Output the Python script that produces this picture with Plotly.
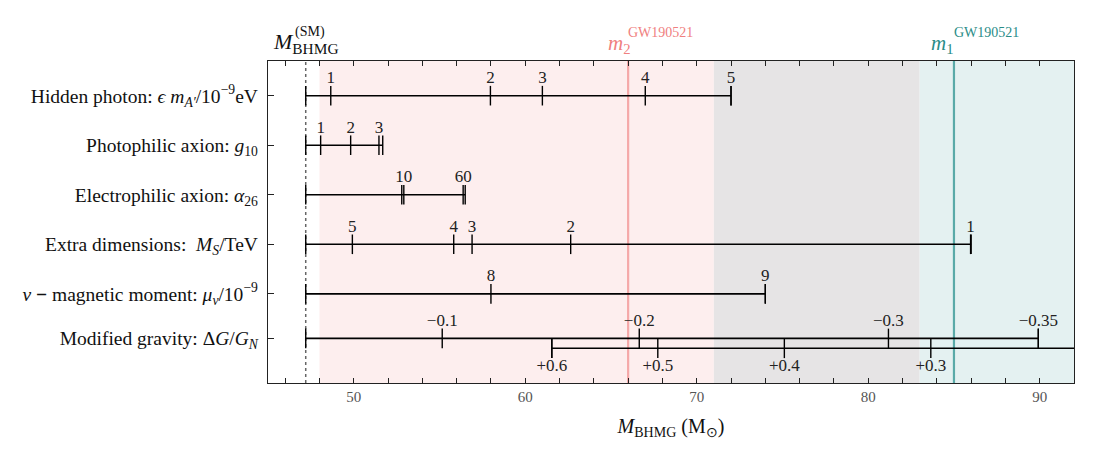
import plotly.graph_objects as go

# ---------------- data ----------------
X_RANGE = [45, 92]
X_MAJOR = [50, 60, 70, 80, 90]
X_MINOR = [46, 48, 52, 54, 56, 58, 62, 64, 66, 68, 72, 74, 76, 78, 82, 84, 86, 88, 92]

M_SM = 47.2          # standard-model BHMG lower edge
M2_GW = 66.0         # GW190521 m2
M2_BAND = [48.0, 83.0]
M1_GW = 85.0         # GW190521 m1
M1_BAND = [71.0, 106.0]

ROW_LABELS = [
    "Hidden photon: <i>ϵ m</i><sub><i>A′</i></sub>/10<sup>−9</sup>eV",
    "Photophilic axion: <i>g</i><sub>10</sub>",
    "Electrophilic axion: <i>α</i><sub>26</sub>",
    "Extra dimensions:  <i>M</i><sub><i>S</i></sub>/TeV",
    "<i>ν</i> <b>−</b> magnetic moment: <i>μ</i><sub><i>ν</i></sub>/10<sup>−9</sup>",
    "Modified gravity: Δ<i>G</i>/<i>G</i><sub><i>N</i></sub>",
]
ROW_Y = [0, 1, 2, 3, 4, 4.9]
ROW_END = [72.0, 51.69, 56.5, 86.0, 74.0, 89.92]
ROW_TICKS = [
    [48.66, 57.97, 61.0, 67.0, 72.0],
    [48.07, 49.82, 51.47],
    [52.8, 52.92, 56.38],
    [49.92, 55.83, 56.9, 62.65, 85.97],
    [58.0, 74.0],
    [55.16, 66.65, 81.18, 89.92],
]
ROW_TICK_LABELS = [
    ["1", "2", "3", "4", "5"],
    ["1", "2", "3"],
    ["", "10", "60"],
    ["5", "4", "3", "2", "1"],
    ["8", "9"],
    ["−0.1", "−0.2", "−0.3", "−0.35"],
]

# modified gravity, positive branch
POS_Y = 5.1
POS_START = 61.55
POS_END = 95.0
POS_TICKS = [61.55, 67.73, 75.11, 83.65]
POS_TICK_LABELS = ["+0.6", "+0.5", "+0.4", "+0.3"]

# ---------------- style ----------------
FONT = "Liberation Serif, Times New Roman, serif"
PINK_BG = "#fdeeee"
GRAY_BG = "#e6e4e5"
TEAL_BG = "#e4f1f1"
PINK_LINE = "#f5a8a8"
TEAL_LINE = "#5aaaa8"
PINK_TXT = "#f08080"
TEAL_TXT = "#2a8c87"
LABEL_DY = 0.34

fig = go.Figure()

def add_bar(x0, x1, y, ticks, labels, below=False):
    fig.add_trace(go.Scatter(x=[x0, x1], y=[y, y], mode="lines",
                             line=dict(color="black", width=1.6),
                             hoverinfo="skip", showlegend=False))
    caps = [x0] + list(ticks) + ([x1] if x1 <= X_RANGE[1] else [])
    fig.add_trace(go.Scatter(x=caps, y=[y] * len(caps), mode="markers",
                             marker=dict(symbol="line-ns", size=14,
                                         line=dict(color="black", width=1.4)),
                             hoverinfo="skip", showlegend=False))
    dy = LABEL_DY + 0.03 if below else -LABEL_DY
    fig.add_trace(go.Scatter(x=list(ticks), y=[y + dy] * len(ticks), mode="text",
                             text=labels, textposition="middle center",
                             textfont=dict(family=FONT, size=17, color="#222"),
                             hoverinfo="skip", showlegend=False, cliponaxis=False))

for y, end, ticks, labels in zip(ROW_Y, ROW_END, ROW_TICKS, ROW_TICK_LABELS):
    add_bar(M_SM, end, y, ticks, labels)
add_bar(POS_START, POS_END, POS_Y, POS_TICKS, POS_TICK_LABELS, below=True)

# invisible trace on the top axis so that it is drawn
fig.add_trace(go.Scatter(x=X_RANGE, y=[0, 0], xaxis="x2", mode="markers",
                         marker=dict(opacity=0), hoverinfo="skip", showlegend=False))

# shaded bands
shapes = [
    dict(type="rect", xref="x", yref="paper", x0=M2_BAND[0], x1=M1_BAND[0], y0=0, y1=1,
         fillcolor=PINK_BG, line=dict(width=0), layer="below"),
    dict(type="rect", xref="x", yref="paper", x0=M1_BAND[0], x1=M2_BAND[1], y0=0, y1=1,
         fillcolor=GRAY_BG, line=dict(width=0), layer="below"),
    dict(type="rect", xref="x", yref="paper", x0=M2_BAND[1], x1=min(M1_BAND[1], X_RANGE[1]), y0=0, y1=1,
         fillcolor=TEAL_BG, line=dict(width=0), layer="below"),
    dict(type="line", xref="x", yref="paper", x0=M2_GW, x1=M2_GW, y0=0, y1=1,
         line=dict(color=PINK_LINE, width=2.2), layer="below"),
    dict(type="line", xref="x", yref="paper", x0=M1_GW, x1=M1_GW, y0=0, y1=1,
         line=dict(color=TEAL_LINE, width=2.2), layer="below"),
    dict(type="line", xref="x", yref="paper", x0=M_SM, x1=M_SM, y0=0, y1=1,
         line=dict(color="#666", width=1.5, dash="dot"), layer="below"),
]

annotations = [
    dict(x=M_SM, y=1, xref="x", yref="paper", xanchor="center", yanchor="bottom",
         yshift=2, showarrow=False,
         text="<i>M</i><sub>BHMG</sub>", font=dict(family=FONT, size=22, color="#111")),
    dict(x=M_SM, y=1, xref="x", yref="paper", xanchor="left", yanchor="bottom",
         xshift=-13, yshift=19, showarrow=False,
         text="(SM)", font=dict(family=FONT, size=14, color="#111")),
    dict(x=M2_GW, y=1, xref="x", yref="paper", xanchor="right", yanchor="bottom",
         xshift=5, yshift=2, showarrow=False,
         text="<i>m</i><sub>2</sub>", font=dict(family=FONT, size=21, color=PINK_TXT)),
    dict(x=M2_GW, y=1, xref="x", yref="paper", xanchor="left", yanchor="bottom",
         xshift=-2, yshift=19, showarrow=False,
         text="GW190521", font=dict(family=FONT, size=14, color=PINK_TXT)),
    dict(x=M1_GW, y=1, xref="x", yref="paper", xanchor="right", yanchor="bottom",
         xshift=2, yshift=2, showarrow=False,
         text="<i>m</i><sub>1</sub>", font=dict(family=FONT, size=21, color=TEAL_TXT)),
    dict(x=M1_GW, y=1, xref="x", yref="paper", xanchor="left", yanchor="bottom",
         xshift=-2, yshift=19, showarrow=False,
         text="GW190521", font=dict(family=FONT, size=14, color=TEAL_TXT)),
]

AX_COLOR = "#222"
fig.update_layout(
    width=1086, height=442,
    margin=dict(l=260, r=20, t=53, b=67),
    plot_bgcolor="white", paper_bgcolor="white",
    shapes=shapes, annotations=annotations,
    font=dict(family=FONT, color="#111"),
    xaxis=dict(
        range=X_RANGE, tickvals=X_MAJOR, ticks="inside", ticklen=5, tickwidth=1.2,
        tickcolor=AX_COLOR, showline=True, linecolor=AX_COLOR, linewidth=1.4,
        mirror=True, showgrid=False, zeroline=False,
        tickfont=dict(family=FONT, size=15, color="#555"),
        minor=dict(tickvals=X_MINOR, ticks="inside", ticklen=5, tickwidth=1.2,
                   tickcolor=AX_COLOR, showgrid=False),
        title=dict(text="<i>M</i><sub>BHMG</sub> (M<sub>⊙</sub>)", standoff=14,
                   font=dict(family=FONT, size=20, color="#111")),
    ),
    xaxis2=dict(
        range=X_RANGE, overlaying="x", side="top", tickvals=X_MAJOR,
        ticks="inside", ticklen=5, tickwidth=1.2, tickcolor=AX_COLOR,
        showticklabels=False, showgrid=False, zeroline=False, showline=False,
        minor=dict(tickvals=X_MINOR, ticks="inside", ticklen=5, tickwidth=1.2,
                   tickcolor=AX_COLOR, showgrid=False),
    ),
    yaxis=dict(
        range=[5.8, -0.7], tickvals=ROW_Y, ticktext=ROW_LABELS, ticks="inside",
        ticklen=6, tickwidth=1.2, tickcolor=AX_COLOR, showline=True, linecolor=AX_COLOR,
        linewidth=1.4, mirror=True, showgrid=False, zeroline=False,
        ticklabelstandoff=5,
        tickfont=dict(family=FONT, size=19.5, color="#111"),
    ),
)

fig.write_html("out.html")
